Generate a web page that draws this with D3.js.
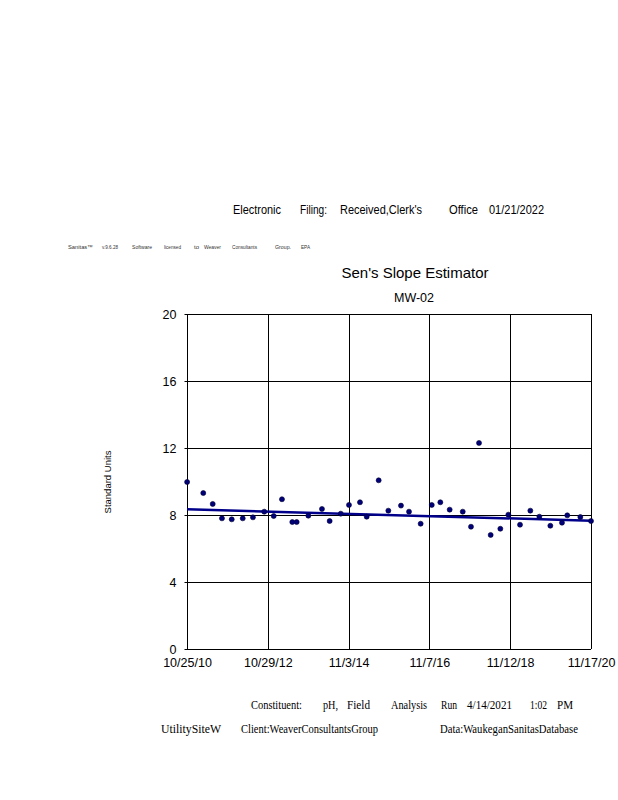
<!DOCTYPE html>
<html>
<head>
<meta charset="utf-8">
<script src="https://cdn.jsdelivr.net/npm/d3@7"></script>
<style>
  html, body { margin: 0; padding: 0; background: #fff; }
  svg { display: block; }
</style>
</head>
<body>
<div id="chart"></div>
<script>
// ---------------- DATA ----------------
const sampleDates = [
  "2010-10-26","2011-03-22","2011-06-16","2011-09-08","2011-12-06","2012-03-15",
  "2012-06-16","2012-09-27","2012-12-22","2013-03-07","2013-06-09","2013-07-19",
  "2013-11-02","2014-03-06","2014-05-15","2014-08-24","2014-11-07","2015-02-15",
  "2015-04-17","2015-08-04","2015-10-31","2016-02-23","2016-05-06","2016-08-20",
  "2016-11-29","2017-02-15","2017-05-11","2017-09-07","2017-11-21","2018-02-02",
  "2018-05-19","2018-08-15","2018-10-27","2019-02-10","2019-05-15","2019-08-05",
  "2019-11-13","2020-02-27","2020-04-15","2020-08-12","2020-11-17"
];
const phValues = [
  9.97, 9.31, 8.66, 7.80, 7.74, 7.80,
  7.86, 8.20, 7.94, 8.94, 7.58, 7.58,
  7.96, 8.36, 7.64, 8.08, 8.60, 8.76,
  7.90, 10.07, 8.26, 8.56, 8.20, 7.48,
  8.60, 8.76, 8.32, 8.20, 7.30, 12.30,
  6.81, 7.18, 8.02, 7.42, 8.26, 7.90,
  7.36, 7.54, 7.98, 7.88, 7.64
];
const trendDates = ["2010-10-25", "2020-11-17"];
const trendValues = [8.34, 7.66];
const xDomain = ["2010-10-25", "2020-11-17"];
const xTickDates = ["2010-10-25","2012-10-29","2014-11-03","2016-11-07","2018-11-12","2020-11-17"];
const xTickLabels = ["10/25/10","10/29/12","11/3/14","11/7/16","11/12/18","11/17/20"];
const yTicks = [0, 4, 8, 12, 16, 20];
const yDomain = [0, 20];

const titleText = "Sen's Slope Estimator";
const subtitleText = "MW-02";
const yAxisTitle = "Standard Units";

// ---------------- LAYOUT ----------------
const W = 618, H = 800;
const parse = d3.timeParse("%Y-%m-%d");
const plot = { left: 187, right: 591, top: 314, bottom: 649 };

const svg = d3.select("#chart").append("svg")
  .attr("width", W).attr("height", H)
  .attr("viewBox", `0 0 ${W} ${H}`);

const x = d3.scaleTime().domain(xDomain.map(parse)).range([plot.left, plot.right]);
const y = d3.scaleLinear().domain(yDomain).range([plot.bottom, plot.top]);

const sans = "'Liberation Sans', Arial, sans-serif";
const serif = "'Liberation Serif', 'Times New Roman', serif";

function words(list, baseline, font, size, fill, weight) {
  list.forEach(([t, x0, w]) => {
    svg.append("text")
      .attr("x", x0).attr("y", baseline)
      .attr("font-family", font).attr("font-size", size)
      .attr("font-weight", weight || "normal")
      .attr("fill", fill || "#000")
      .attr("textLength", w).attr("lengthAdjust", "spacingAndGlyphs")
      .text(t);
  });
}

// Header line
words([
  ["Electronic", 233, 48],
  ["Filing:", 300, 27],
  ["Received,Clerk's", 340, 82],
  ["Office", 449, 29],
  ["01/21/2022", 489, 55]
], 214, sans, 12.5, "#000");

// Tiny software line
words([
  ["Sanitas\u2122", 68, 25],
  ["v.9.6.28", 102, 16],
  ["Software", 132, 20],
  ["licensed", 164, 17],
  ["to", 194, 5],
  ["Weaver", 204, 17],
  ["Consultants", 232, 25],
  ["Group.", 275, 16],
  ["EPA", 301, 9]
], 249, sans, 5.5, "#333", "normal");

// Titles
svg.append("text").attr("x", 415).attr("y", 278)
  .attr("text-anchor", "middle").attr("font-family", sans).attr("font-size", 15)
  .text(titleText);
svg.append("text").attr("x", 414).attr("y", 302)
  .attr("text-anchor", "middle").attr("font-family", sans).attr("font-size", 12.5)
  .text(subtitleText);

// Y axis title
svg.append("text")
  .attr("transform", "translate(111,482) rotate(-90)")
  .attr("text-anchor", "middle").attr("font-family", sans).attr("font-size", 9.5)
  .text(yAxisTitle);

// Gridlines
const g = svg.append("g");
g.selectAll("line.hg").data(yTicks).join("line")
  .attr("x1", plot.left).attr("x2", plot.right)
  .attr("y1", d => Math.round(y(d)) + 0.5).attr("y2", d => Math.round(y(d)) + 0.5)
  .attr("stroke", "#000").attr("stroke-width", 1);
g.selectAll("line.vg").data(xTickDates).join("line")
  .attr("x1", d => Math.round(x(parse(d))) + 0.5).attr("x2", d => Math.round(x(parse(d))) + 0.5)
  .attr("y1", plot.top).attr("y2", plot.bottom)
  .attr("stroke", "#000").attr("stroke-width", 1);

// Axes (labels)
const yAxis = d3.axisLeft(y).tickValues(yTicks).tickSize(3).tickPadding(8)
  .tickFormat(d3.format("d"));
const yg = svg.append("g").attr("transform", `translate(${plot.left + 0.5},0)`).call(yAxis);
yg.select(".domain").remove();
yg.selectAll("text").attr("font-family", sans).attr("font-size", 12.5).attr("fill", "#000")
  .attr("dy", "0.35em");
yg.selectAll("line").attr("stroke", "#000");

const xAxis = d3.axisBottom(x).tickValues(xTickDates.map(parse)).tickSize(0).tickPadding(9)
  .tickFormat((d, i) => xTickLabels[i]);
const xg = svg.append("g").attr("transform", `translate(0,${plot.bottom})`).call(xAxis);
xg.select(".domain").remove();
xg.selectAll("text").attr("font-family", sans).attr("font-size", 12.5).attr("fill", "#000");

// Trend line
const line = d3.line().x(d => x(parse(d[0]))).y(d => y(d[1]));
svg.append("path")
  .datum(trendDates.map((d, i) => [d, trendValues[i]]))
  .attr("d", line)
  .attr("fill", "none").attr("stroke", "#00008B").attr("stroke-width", 2.5);

// Points
svg.append("g").selectAll("circle")
  .data(sampleDates.map((d, i) => ({ date: parse(d), v: phValues[i] })))
  .join("circle")
  .attr("cx", d => x(d.date)).attr("cy", d => y(d.v))
  .attr("r", 2.5)
  .attr("fill", "#00007A").attr("stroke", "#000033").attr("stroke-width", 0.6);

// Footer
words([
  ["Constituent:", 251, 51],
  ["pH,", 323, 15],
  ["Field", 347, 23],
  ["Analysis", 391, 36],
  ["Run", 441, 16],
  ["4/14/2021", 467, 45],
  ["1:02", 530, 17],
  ["PM", 557, 16]
], 709, serif, 12, "#000");
words([
  ["UtilitySiteW", 161, 60],
  ["Client:WeaverConsultantsGroup", 241, 137],
  ["Data:WaukeganSanitasDatabase", 440, 138]
], 733, serif, 12, "#000");
</script>
</body>
</html>
